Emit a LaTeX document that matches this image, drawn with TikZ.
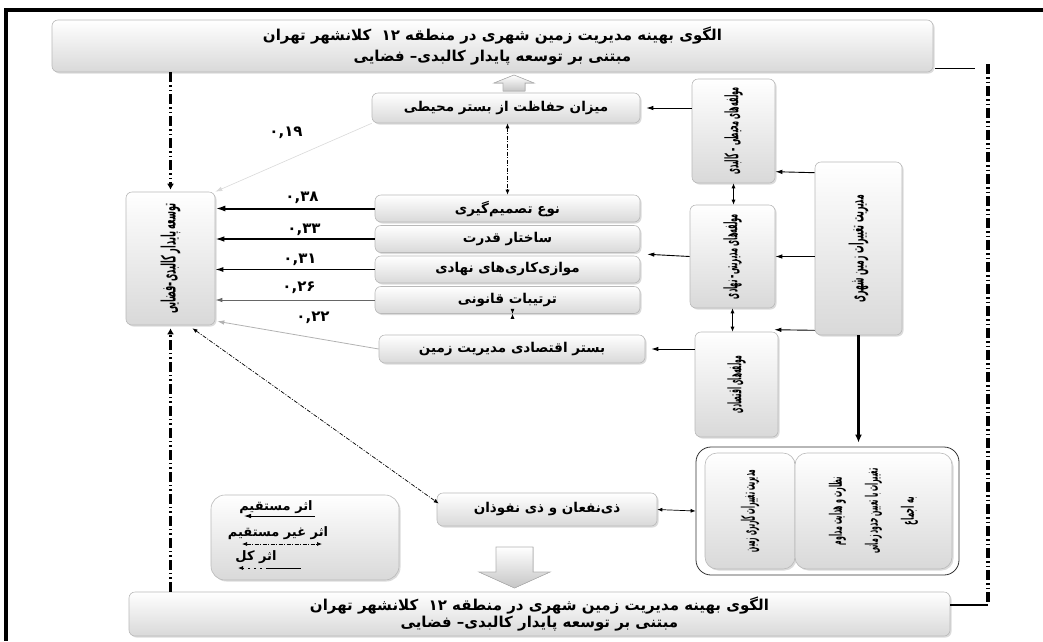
\documentclass[tikz,border=0pt]{standalone}
\usepackage{graphicx}
\usepackage{fontspec}
\newfontfamily\ar[Script=Arabic]{DejaVu Sans}
\TeXXeTstate=1
\usetikzlibrary{shadows,calc,arrows.meta}
\newcommand{\vt}[3][14pt]{\rotatebox{90}{\resizebox{#2}{#1}{#3}}}
\begin{document}
\begin{tikzpicture}[x=1pt,y=-1pt,
  box/.style={draw=gray!55, line width=0.6pt, rounded corners=6pt, top color=white, bottom color=gray!30,
    drop shadow={shadow xshift=1.5pt, shadow yshift=-1.5pt, fill=gray!70, opacity=0.4},
    inner sep=1pt, align=center, font=\ar\bfseries\fontsize{13.5}{15}\selectfont},
  titlebox/.style={box, font=\ar\bfseries\fontsize{15}{21}\selectfont},
  lab/.style={font=\ar\bfseries\fontsize{15}{15}\selectfont, inner sep=0pt},
  legt/.style={font=\ar\bfseries\fontsize{13}{13}\selectfont, inner sep=0pt},
  tip/.style={-{Latex[length=7pt,width=4.5pt]}},
  dtip/.style={{Latex[length=5pt,width=4pt]}-{Latex[length=5pt,width=4pt]}},
  ddot/.style={dash pattern=on 4pt off 1.5pt on 1pt off 1.5pt, line width=0.7pt},
  thickdd/.style={line width=3pt, dash pattern=on 10pt off 3pt on 1.5pt off 3pt on 1.5pt off 3pt},
  blockarrow/.style={draw=gray!60, line width=0.6pt, top color=white, bottom color=gray!45}
]
\useasboundingbox (0,0) rectangle (1043,641);
% outer frame
\draw[line width=3.5pt] (1043,10) -- (6,10) -- (6,641);

% title boxes
\node[titlebox, minimum width=881, minimum height=52] (tbox) at (492.5,46)
  {\beginR الگوی بهینه مدیریت زمین شهری در منطقه \beginL ۱۲\endL\ \ کلانشهر تهران\endR\\ \beginR مبتنی بر توسعه پایدار کالبدی– فضایی\endR};
\node[titlebox, minimum width=821, minimum height=44, font=\ar\bfseries\fontsize{15}{17}\selectfont] (bbox) at (539.5,614)
  {\beginR الگوی بهینه مدیریت زمین شهری در منطقه \beginL ۱۲\endL\ \ کلانشهر تهران\endR\\ \beginR مبتنی بر توسعه پایدار کالبدی– فضایی\endR};

% block arrows
\filldraw[blockarrow] (514,75) -- (534,83) -- (525,83) -- (525,91) -- (503,91) -- (503,83) -- (494,83) -- cycle;
\filldraw[blockarrow] (496,547) -- (533,547) -- (533,572) -- (550,572) -- (514.5,588) -- (479,572) -- (496,572) -- cycle;

% middle boxes
\node[box, minimum width=268, minimum height=30] (mz) at (506,108) {\beginR میزان حفاظت از بستر محیطی\endR};
\node[box, minimum width=265, minimum height=27] (nt) at (507.5,208.5) {\beginR نوع تصمیم‌گیری\endR};
\node[box, minimum width=265, minimum height=27] (sq) at (507.5,239) {\beginR ساختار قدرت\endR};
\node[box, minimum width=265, minimum height=27] (mv) at (507.5,269.5) {\beginR موازی‌کاری‌های نهادی\endR};
\node[box, minimum width=265, minimum height=27] (tq) at (507.5,300) {\beginR ترتیبات قانونی\endR};
\node[box, minimum width=266, minimum height=28] (bs) at (512,349) {\beginR بستر اقتصادی مدیریت زمین\endR};
\node[box, minimum width=220, minimum height=33] (zn) at (547,509.5) {\beginR ذی‌نفعان و ذی نفوذان\endR};

% left vertical box
\node[box, minimum width=89, minimum height=133] (lb) at (170.5,258.5)
  {\vt[15pt]{110pt}{\beginR توسعه پایدار کالبدی–فضایی\endR}};

% right vertical boxes
\node[box, minimum width=83, minimum height=104] (env) at (733.5,131)
  {\vt{87pt}{\beginR مولفه‌های محیطی – کالبدی\endR}};
\node[box, minimum width=85, minimum height=103] (mg) at (732.5,256.5)
  {\vt{85pt}{\beginR مولفه‌های مدیریتی– نهادی\endR}};
\node[box, minimum width=83, minimum height=105] (ec) at (736.5,384.5)
  {\vt{57pt}{\beginR مولفه‌های اقتصادی\endR}};
\node[box, minimum width=87, minimum height=173] (fr) at (858.5,248.5)
  {\vt[15pt]{107pt}{\beginR مدیریت تغییرات زمین شهری\endR}};

% bottom right container
\node[draw=gray!40!black, line width=0.8pt, rounded corners=15pt, fill=white, minimum width=263, minimum height=128] (cont) at (827.5,511) {};
\node[box, rounded corners=12pt, minimum width=90, minimum height=116] (lp) at (750,511)
  {\vt{82pt}{\beginR مدیریت تغییرات کاربری زمین\endR}};
\node[box, rounded corners=12pt, minimum width=157, minimum height=116] (rp) at (873.5,511)
  {\rotatebox{90}{\vbox{\baselineskip=36pt\halign{\hfil#\hfil\cr
     \resizebox{68pt}{13pt}{\beginR نظارت و هدایت مداوم\endR}\cr
     \resizebox{85pt}{13pt}{\beginR تغییرات با تعیین حدود زمانی\endR}\cr
     \resizebox{28pt}{13pt}{\beginR به اجماع\endR}\cr}}}};

% legend
\node[box, rounded corners=14pt, minimum width=188, minimum height=85] (leg) at (305,537.5) {};
\node[legt] (l1) at (276,507) {\beginR اثر مستقیم\endR};
\node[legt] (l2) at (278,533) {\beginR اثر غیر مستقیم\endR};
\node[legt] (l3) at (256,557) {\beginR اثر کل\endR};
\draw[tip, line width=0.8pt] (315,516) -- (244,516);
\draw[dtip, ddot] (242,544) -- (322,544);
\draw[-{Latex[length=5pt,width=4pt]}, dash pattern=on 2pt off 4pt, line width=0.8pt] (268,568) -- (238,568);
\draw[line width=0.8pt] (268,568) -- (301,568);

% direct arrows to left box
\draw[line width=2pt, -{Latex[length=10pt,width=6pt]}] (nt.west) -- (nt.west -| lb.east);
\draw[line width=1.5pt, -{Latex[length=9pt,width=5.5pt]}] (sq.west) -- (sq.west -| lb.east);
\draw[line width=1.2pt, -{Latex[length=8pt,width=5pt]}] (mv.west) -- (mv.west -| lb.east);
\draw[tip, line width=1pt, gray!80!black] (tq.west) -- (tq.west -| lb.east);
\draw[tip, line width=0.8pt, gray!60] (bs.west) -- ($(lb.south east)+(2,-4)$);
\draw[tip, line width=0.6pt, gray!30] (mz.south west) -- (lb.north east);

% coefficient labels
\node[lab] (c19) at (286,133) {۰,۱۹};
\node[lab] (c38) at (302,198) {۰,۳۸};
\node[lab] (c33) at (304,230) {۰,۳۳};
\node[lab] (c31) at (300,260) {۰,۳۱};
\node[lab] (c26) at (299,288) {۰,۲۶};
\node[lab] (c22) at (313,318) {۰,۲۲};

% links between middle boxes
\draw[dtip, ddot] (mz.south -| nt.north) -- (nt.north);
\draw[dtip, dash pattern=on 1.5pt off 1.5pt, line width=0.7pt] ($(tq.south)+(5,0)$) -- ($(tq.south)+(5,0)$ |- bs.north);
\draw[dtip, ddot] ($(lb.south)+(22,3)$) -- ($(zn.west)+(2,-6)$);
\draw[dtip, line width=0.7pt] (zn.east) -- (cont.west);

% right column links
\draw[dtip, line width=0.7pt] (env.south) -- (env.south |- mg.north);
\draw[dtip, line width=0.7pt] (mg.south) -- (mg.south |- ec.north);
\draw[tip, line width=0.9pt] (env.west |- mz.east) -- ($(mz.east)+(6,0)$);
\draw[tip, line width=0.9pt] (mg.west) -- ($($(sq.east)!0.5!(mv.east)$)+(7,0)$);
\draw[tip, line width=0.9pt] (ec.west |- bs.east) -- ($(bs.east)+(6,0)$);
\draw[tip, line width=0.9pt] ($(fr.north west)+(0,11)$) -- ($(env.north east)+(0,93)$);
\draw[tip, line width=0.9pt] (fr.west |- mg.east) -- (mg.east);
\draw[tip, line width=0.9pt] ($(fr.south west)+(0,-5)$) -- ($(ec.north east)+(-4,-2)$);
\draw[line width=2.8pt, -{Latex[length=8pt,width=7pt]}] (fr.south) -- ($(cont.north -| fr.south)+(0,-4)$);

% long dash-dot lines
\draw[thickdd, -{Latex[length=6pt,width=7pt]}, shorten >=2pt] (tbox.south -| lb.north) -- (lb.north);
\draw[thickdd, -{Latex[length=6pt,width=7pt]}, shorten >=3pt] (bbox.north -| lb.south) -- (lb.south);
\coordinate (rt) at (988,64);
\coordinate (rb) at (988,605);
\draw[line width=1.5pt] ($(tbox.south east)+(2,-4)$) -- ++(40,0);
\draw[thickdd, line width=3.5pt] (rt) -- (rb);
\draw[line width=1.5pt] (bbox.east |- rb) -- (rb);
\end{tikzpicture}
\end{document}
